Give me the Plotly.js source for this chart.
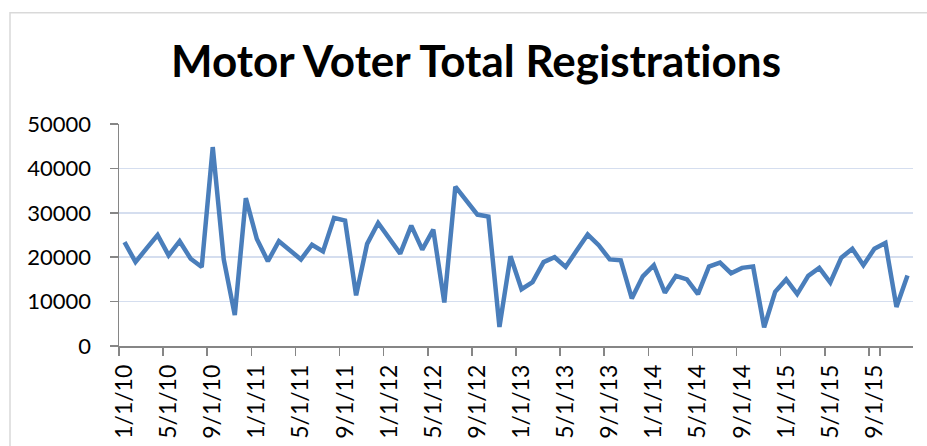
<!DOCTYPE html>
<html>
<head>
<meta charset="utf-8">
<script src="https://cdn.plot.ly/plotly-3.0.1.min.js"></script>
<style>
  html, body { margin: 0; padding: 0; background: #ffffff; }
  #chart { width: 927px; height: 446px; }
  text { font-variant-ligatures: none; font-feature-settings: "liga" 0; }
</style>
</head>
<body>
<div id="chart"></div>
<script>
// Monthly categories, Jan 2010 - Dec 2015
const months = [
  "1/1/10","2/1/10","3/1/10","4/1/10","5/1/10","6/1/10","7/1/10","8/1/10","9/1/10","10/1/10","11/1/10","12/1/10",
  "1/1/11","2/1/11","3/1/11","4/1/11","5/1/11","6/1/11","7/1/11","8/1/11","9/1/11","10/1/11","11/1/11","12/1/11",
  "1/1/12","2/1/12","3/1/12","4/1/12","5/1/12","6/1/12","7/1/12","8/1/12","9/1/12","10/1/12","11/1/12","12/1/12",
  "1/1/13","2/1/13","3/1/13","4/1/13","5/1/13","6/1/13","7/1/13","8/1/13","9/1/13","10/1/13","11/1/13","12/1/13",
  "1/1/14","2/1/14","3/1/14","4/1/14","5/1/14","6/1/14","7/1/14","8/1/14","9/1/14","10/1/14","11/1/14","12/1/14",
  "1/1/15","2/1/15","3/1/15","4/1/15","5/1/15","6/1/15","7/1/15","8/1/15","9/1/15","10/1/15","11/1/15","12/1/15"
];

// Total registrations per month
const registrations = [
  23400, 18900, 22000, 25000, 20400, 23600, 19650, 17800, 44800, 19500, 6950, 33300,
  24100, 19100, 23600, 21500, 19500, 22800, 21300, 28850, 28250, 11400, 23000, 27700,
  24400, 20800, 27100, 21700, 26200, 9800, 35900, 32900, 29600, 29150, 4300, 20200,
  12800, 14400, 18900, 20000, 17800, 21500, 25100, 22700, 19500, 19300, 10700, 15700,
  18200, 12000, 15800, 15000, 11700, 17900, 18800, 16400, 17600, 17900, 4200, 12200,
  15000, 11700, 15800, 17600, 14300, 19900, 21900, 18200, 21900, 23200, 8800, 15900
];

// Tick labels shown on the x axis (every 4th month)
const xTickLabels = ["1/1/10","5/1/10","9/1/10","1/1/11","5/1/11","9/1/11","1/1/12","5/1/12","9/1/12",
  "1/1/13","5/1/13","9/1/13","1/1/14","5/1/14","9/1/14","1/1/15","5/1/15","9/1/15"];

const yTicks = [0, 10000, 20000, 30000, 40000, 50000];

const FONT = "Lato, 'Open Sans', 'Liberation Sans', sans-serif";

const trace = {
  type: "scatter",
  mode: "lines",
  x: months,
  y: registrations,
  line: { color: "#4A7EBB", width: 4.5, shape: "linear" },
  hoverinfo: "x+y"
};

const L = 119, R = 14, T = 123.5, B = 100, W = 927, H = 446;
const pw = W - L - R, ph = H - T - B;
const px = v => (v - L) / pw;
const py = v => (H - B - v) / ph;

const layout = {
  width: W, height: H,
  margin: { l: L, r: R, t: T, b: B, pad: 0 },
  paper_bgcolor: "#ffffff",
  plot_bgcolor: "#ffffff",
  showlegend: false,
  font: { family: FONT, color: "#000000", size: 22 },
  title: {
    text: "<b>Motor Voter Total Registrations</b>",
    font: { family: FONT, size: 44, color: "#000000" },
    xref: "container", x: 476 / W, xanchor: "center",
    yref: "container", y: 1 - 62 / H, yanchor: "middle"
  },
  xaxis: {
    type: "category",
    categoryorder: "array",
    categoryarray: months,
    range: [-0.5, months.length - 0.5],
    tickmode: "array",
    tickvals: xTickLabels,
    ticktext: xTickLabels,
    tickson: "boundaries",
    tickangle: -90,
    ticks: "outside",
    ticklen: 8,
    tickwidth: 1.5,
    tickcolor: "#868686",
    showline: true,
    linecolor: "#868686",
    linewidth: 1.5,
    showgrid: false,
    zeroline: false,
    ticklabelstandoff: 8,
    tickfont: { family: FONT, size: 23, color: "#000000" }
  },
  yaxis: {
    range: [0, 50000],
    tickmode: "array",
    tickvals: yTicks,
    ticktext: yTicks.map(String),
    ticks: "outside",
    ticklen: 8,
    tickwidth: 1.5,
    tickcolor: "#868686",
    showline: true,
    linecolor: "#868686",
    linewidth: 1.5,
    showgrid: true,
    gridcolor: "#D5DEEF",
    gridwidth: 1.5,
    zeroline: false,
    ticklabelstandoff: 14,
    tickfont: { family: FONT, size: 22, color: "#000000" }
  },
  shapes: [{
    type: "rect", xref: "paper", yref: "paper",
    x0: px(10), x1: px(W + 20), y0: py(H + 20), y1: py(12),
    line: { color: "#D9D9D9", width: 1.5 }, fillcolor: "rgba(0,0,0,0)", layer: "below"
  }]
};

Plotly.newPlot("chart", [trace], layout, { displayModeBar: false, staticPlot: true });
</script>
</body>
</html>
